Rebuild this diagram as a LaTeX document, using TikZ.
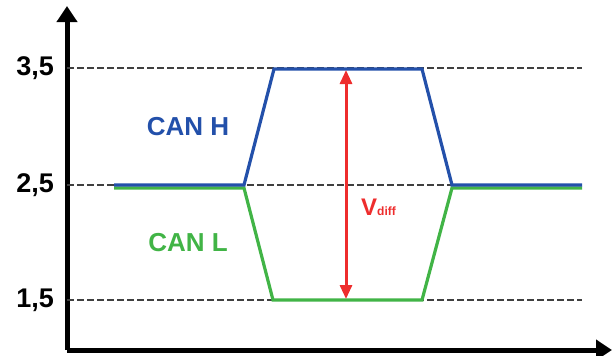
\documentclass[tikz,border=0pt]{standalone}
\usepackage{fontspec}
\setmainfont{Liberation Sans}
\usetikzlibrary{
    arrows.meta,
%    positioning,
}
\definecolor{canblue}{RGB}{35,80,170}
\definecolor{cangreen}{RGB}{65,180,70}
\definecolor{canred}{RGB}{238,45,45}
\begin{document}
\begin{tikzpicture}
        [
            x = 1pt, y = -1pt,
            axisline/.style = {line width = 5pt, -{Triangle[length = 16pt, width = 20pt]}},
            levelline/.style = {draw = black!75, line width = 1.4pt, dash pattern = on 7pt off 3pt},
            signal/.style = {line width = 3.2pt, line join = miter},
            ticklabel/.style = {font = \fontsize{27}{27}\bfseries, anchor = east, inner sep = 0pt},
            canlabel/.style = {font = \fontsize{26}{26}\bfseries, inner sep = 0pt}
        ]
        \useasboundingbox (0, 0) rectangle (613, 356);
        \def\yhigh{68}
        \def\ymid{185}
        \def\ylow{300}
        % axes
        \coordinate (origin) at (67, 350);
        \coordinate (ytop) at (67, 6);
        \coordinate (xright) at (612, 350);
        \draw[axisline] (origin) -- (ytop);
        \draw[axisline] (origin) -- (xright);
        % levels
        \foreach \lev/\val in {\yhigh/{3,5}, \ymid/{2,5}, \ylow/{1,5}}
        {
            \node[ticklabel] (t\lev) at (54, \lev) {\val};
            \draw[levelline] (67, \lev) -- (582, \lev);
        }
        % CAN L
        \draw[signal, cangreen] (114, 188) -- (244, 188) -- (273, \ylow) -- (422, \ylow) -- (452, 188) -- (582, 188);
        % CAN H
        \draw[signal, canblue] (114, \ymid) -- (244, \ymid) -- (274, 69) -- (422, 69) -- (452, \ymid) -- (582, \ymid);
        \node[canlabel, text = canblue] (canh) at (188, 127) {CAN H};
        \node[canlabel, text = cangreen] (canl) at (188, 243) {CAN L};
        % differential voltage
        \coordinate (vtop) at (346, 70);
        \coordinate (vbot) at (346, 299);
        \draw[canred, line width = 3pt, {Triangle[length = 14pt, width = 12pt]}-{Triangle[length = 14pt, width = 12pt]}] (vtop) -- (vbot);
        \node[canred, font = \fontsize{24}{24}\bfseries, anchor = base west, inner sep = 0pt] (vdiff) at (361, 215) {V{\fontsize{12}{12}\bfseries diff}};
    \end{tikzpicture}
\end{document}
